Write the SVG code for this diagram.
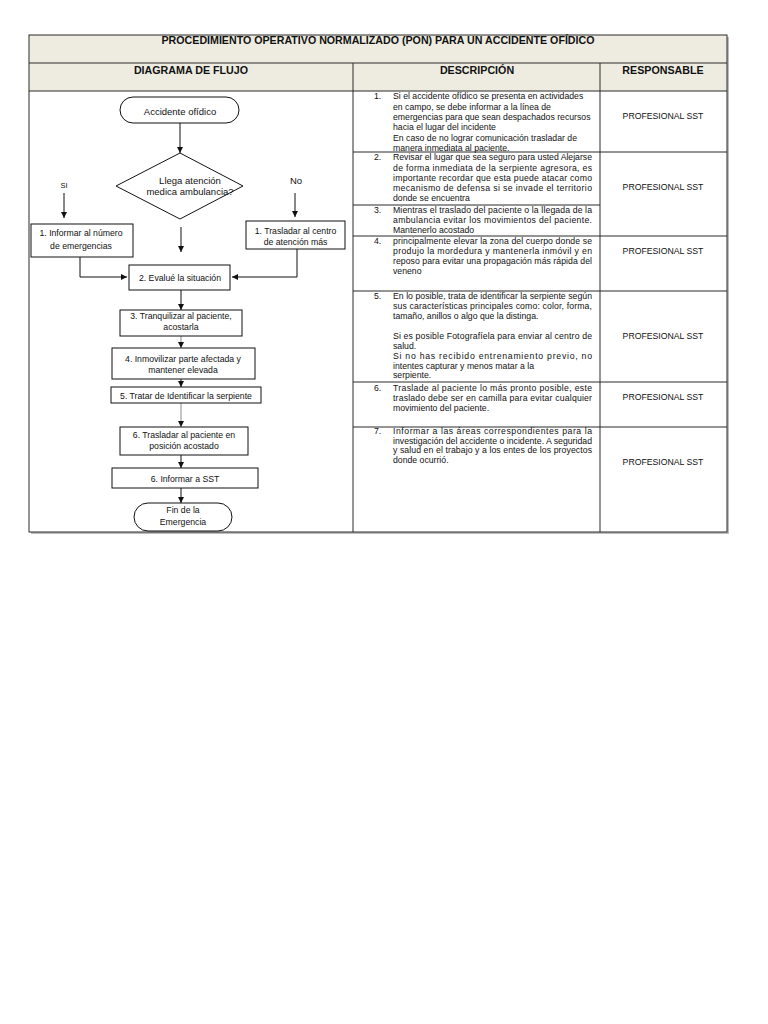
<svg xmlns="http://www.w3.org/2000/svg" width="768" height="1024" viewBox="0 0 768 1024">
<defs>
<style>
text{font-family:"Liberation Sans",Arial,sans-serif;fill:#111}
.hd{font-size:10.7px;font-weight:bold;text-anchor:middle}
.fc{font-size:8.7px;text-anchor:middle}
.fl{font-size:9.5px;text-anchor:middle}
.ds{font-size:8.7px}
.rs{font-size:8.7px;text-anchor:middle}
.tl{stroke:#2a2a2a;stroke-width:1;fill:none}
.bx{fill:#fff;stroke:#111;stroke-width:1}
.cn{fill:none;stroke:#111;stroke-width:1}
.cg{fill:none;stroke:#8a8a8a;stroke-width:1}
</style>
<marker id="ah" markerWidth="6" markerHeight="6" refX="6" refY="3" orient="auto" markerUnits="userSpaceOnUse">
<path d="M0,0 L6,3 L0,6 Z" fill="#111"/>
</marker>
</defs>
<rect width="768" height="1024" fill="#fff"/>
<g id="table">
<rect x="31" y="37" width="698" height="497" fill="#bdbdbd"/>
<rect x="29" y="35" width="698" height="497" fill="#fff"/>
<rect x="29" y="35" width="698" height="56" fill="#eeece1"/>
<rect x="29" y="35" width="698" height="497" class="tl"/>
<line x1="29" y1="63" x2="727" y2="63" class="tl"/>
<line x1="29" y1="91" x2="727" y2="91" class="tl"/>
<line x1="353" y1="63" x2="353" y2="532" class="tl"/>
<line x1="600" y1="63" x2="600" y2="532" class="tl"/>
<line x1="353" y1="152" x2="727" y2="152" class="tl"/>
<line x1="353" y1="205" x2="600" y2="205" class="tl"/>
<line x1="353" y1="236" x2="727" y2="236" class="tl"/>
<line x1="353" y1="291" x2="727" y2="291" class="tl"/>
<line x1="353" y1="382" x2="727" y2="382" class="tl"/>
<line x1="353" y1="427" x2="727" y2="427" class="tl"/>
<text class="hd" x="378" y="44" textLength="433" lengthAdjust="spacingAndGlyphs">PROCEDIMIENTO OPERATIVO NORMALIZADO (PON) PARA UN ACCIDENTE OFÍDICO</text>
<text class="hd" x="191" y="74">DIAGRAMA DE FLUJO</text>
<text class="hd" x="477" y="74">DESCRIPCIÓN</text>
<text class="hd" x="663" y="74">RESPONSABLE</text>
</g>
<g id="desc1" class="ds">
<text x="374" y="99">1.</text>
<text x="393" y="99">Si el accidente ofídico se presenta en actividades</text>
<text x="393" y="109.5">en campo, se debe informar a la línea de</text>
<text x="393" y="120">emergencias para que sean despachados recursos</text>
<text x="393" y="130">hacia el lugar del incidente</text>
<text x="393" y="140.5">En caso de no lograr comunicación trasladar de</text>
<text x="393" y="150.5">manera inmediata al paciente.</text>
</g>
<g id="desc2" class="ds">
<text x="374" y="160">2.</text>
<text x="393" y="160" textLength="199" lengthAdjust="spacing">Revisar el lugar que sea seguro para usted Alejarse</text>
<text x="393" y="170.5" textLength="199" lengthAdjust="spacing">de forma inmediata de la serpiente agresora, es</text>
<text x="393" y="181" textLength="199" lengthAdjust="spacing">importante recordar que esta puede atacar como</text>
<text x="393" y="191" textLength="199" lengthAdjust="spacing">mecanismo de defensa si se invade el territorio</text>
<text x="393" y="201">donde se encuentra</text>
</g>
<g id="desc3" class="ds">
<text x="374" y="213">3.</text>
<text x="393" y="213" textLength="199" lengthAdjust="spacing">Mientras el traslado del paciente o la llegada de la</text>
<text x="393" y="223" textLength="199" lengthAdjust="spacing">ambulancia evitar los movimientos del paciente.</text>
<text x="393" y="233">Mantenerlo acostado</text>
</g>
<g id="desc4" class="ds">
<text x="374" y="244">4.</text>
<text x="393" y="244" textLength="199" lengthAdjust="spacing">principalmente elevar la zona del cuerpo donde se</text>
<text x="393" y="254" textLength="199" lengthAdjust="spacing">produjo la mordedura y mantenerla inmóvil y en</text>
<text x="393" y="264" textLength="199" lengthAdjust="spacing">reposo para evitar una propagación más rápida del</text>
<text x="393" y="274">veneno</text>
</g>
<g id="desc5" class="ds">
<text x="374" y="299">5.</text>
<text x="393" y="299" textLength="199" lengthAdjust="spacing">En lo posible, trata de identificar la serpiente según</text>
<text x="393" y="309" textLength="199" lengthAdjust="spacing">sus características principales como: color, forma,</text>
<text x="393" y="319">tamaño, anillos o algo que la distinga.</text>
<text x="393" y="339" textLength="199" lengthAdjust="spacing">Si es posible Fotografíela para enviar al centro de</text>
<text x="393" y="349">salud.</text>
<text x="393" y="359" textLength="199" lengthAdjust="spacing">Si no has recibido entrenamiento previo, no</text>
<text x="393" y="368.5">intentes capturar y menos matar a la</text>
<text x="393" y="378">serpiente.</text>
</g>
<g id="desc6" class="ds">
<text x="374" y="391">6.</text>
<text x="393" y="391" textLength="199" lengthAdjust="spacing">Traslade al paciente lo más pronto posible, este</text>
<text x="393" y="401" textLength="199" lengthAdjust="spacing">traslado debe ser en camilla para evitar cualquier</text>
<text x="393" y="410.5">movimiento del paciente.</text>
</g>
<g id="desc7" class="ds">
<text x="374" y="434">7.</text>
<text x="393" y="434" textLength="199" lengthAdjust="spacing">Informar a las áreas correspondientes para la</text>
<text x="393" y="443.5" textLength="199" lengthAdjust="spacing">investigación del accidente o incidente. A seguridad</text>
<text x="393" y="453" textLength="199" lengthAdjust="spacing">y salud en el trabajo y a los entes de los proyectos</text>
<text x="393" y="462.5">donde ocurrió.</text>
</g>
<g id="responsable" class="rs">
<text x="663" y="119">PROFESIONAL SST</text>
<text x="663" y="190">PROFESIONAL SST</text>
<text x="663" y="254">PROFESIONAL SST</text>
<text x="663" y="339">PROFESIONAL SST</text>
<text x="663" y="400">PROFESIONAL SST</text>
<text x="663" y="465">PROFESIONAL SST</text>
</g>
<g id="connectors">
<line x1="180" y1="123" x2="180" y2="153" class="cn" marker-end="url(#ah)"/>
<line x1="64" y1="193" x2="64" y2="218" class="cn" marker-end="url(#ah)"/>
<line x1="295" y1="193" x2="295" y2="217" class="cn" marker-end="url(#ah)"/>
<line x1="181" y1="227" x2="181" y2="252" class="cn" marker-end="url(#ah)"/>
<polyline points="80,257 80,277 127,277" class="cn" marker-end="url(#ah)"/>
<polyline points="297,249 297,277 232,277" class="cn" marker-end="url(#ah)"/>
<line x1="181" y1="290" x2="181" y2="310" class="cn" marker-end="url(#ah)"/>
<line x1="181" y1="336" x2="181" y2="348" class="cg" marker-end="url(#ah)"/>
<line x1="181" y1="379" x2="181" y2="387" class="cn" marker-end="url(#ah)"/>
<line x1="181" y1="403" x2="181" y2="427" class="cg" marker-end="url(#ah)"/>
<line x1="181" y1="455" x2="181" y2="468" class="cn" marker-end="url(#ah)"/>
<line x1="181" y1="488" x2="181" y2="503" class="cn" marker-end="url(#ah)"/>
<text x="64" y="187.5" style="font-size:7.5px;text-anchor:middle">SI</text>
<text x="296" y="184" class="fl">No</text>
</g>
<g id="start">
<rect x="120" y="97" width="119" height="26" rx="13" class="bx"/>
<text x="180" y="114.5" class="fl">Accidente ofídico</text>
</g>
<g id="decision">
<polygon points="180,153 243,186 180,219 116,186" class="bx"/>
<text x="190" y="183.5" class="fl">Llega atención</text>
<text x="190" y="194.5" class="fl">medica ambulancia?</text>
</g>
<g id="informar-emergencias">
<rect x="31" y="224" width="102" height="33" class="bx"/>
<text x="81" y="235.5" class="fc">1. Informar al número</text>
<text x="81" y="248.5" class="fc">de emergencias</text>
</g>
<g id="trasladar-centro">
<rect x="246" y="221" width="99" height="28" class="bx"/>
<text x="295.5" y="233.5" class="fc">1. Trasladar al centro</text>
<text x="295.5" y="244.5" class="fc">de atención más</text>
</g>
<g id="evalue">
<rect x="129" y="265" width="101" height="25" class="bx"/>
<text x="180" y="280.5" class="fc">2. Evalué la situación</text>
</g>
<g id="tranquilizar">
<rect x="120" y="310" width="122" height="26" class="bx"/>
<text x="181" y="318.5" class="fc">3. Tranquilizar al paciente,</text>
<text x="181" y="329.5" class="fc">acostarla</text>
</g>
<g id="inmovilizar">
<rect x="112" y="348" width="143" height="31" class="bx"/>
<text x="183" y="361.5" class="fc">4. Inmovilizar parte afectada y</text>
<text x="183" y="372.5" class="fc">mantener elevada</text>
</g>
<g id="identificar">
<rect x="111" y="387" width="150" height="16" class="bx"/>
<text x="186" y="398.5" class="fc">5. Tratar de Identificar la serpiente</text>
</g>
<g id="trasladar-paciente">
<rect x="120" y="427" width="128" height="28" class="bx"/>
<text x="184" y="437.5" class="fc">6. Trasladar al paciente en</text>
<text x="184" y="448.5" class="fc">posición acostado</text>
</g>
<g id="informar-sst">
<rect x="112" y="468" width="146" height="20" class="bx"/>
<text x="185" y="481.5" class="fc">6. Informar a SST</text>
</g>
<g id="fin">
<rect x="134" y="503" width="98" height="28" rx="14" class="bx"/>
<text x="183" y="512.5" class="fc">Fin de la</text>
<text x="183" y="524.5" class="fc">Emergencia</text>
</g>
</svg>
